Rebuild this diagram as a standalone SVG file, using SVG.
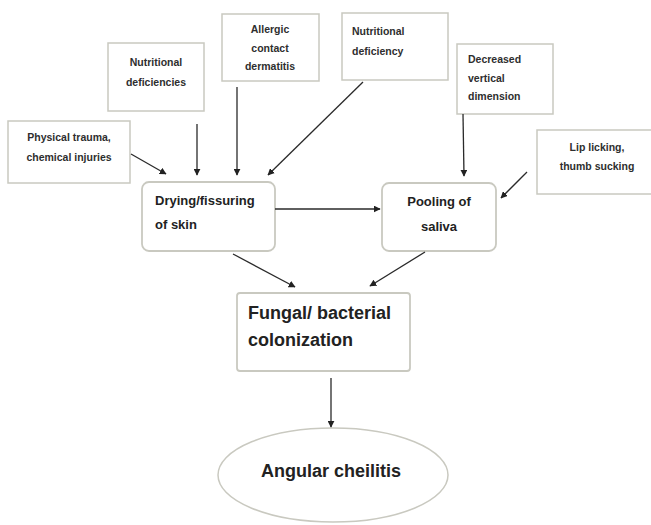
<svg xmlns="http://www.w3.org/2000/svg" width="651" height="525" viewBox="0 0 651 525">
<defs>
<marker id="ah" viewBox="0 0 10 10" refX="9" refY="5" markerWidth="7" markerHeight="7" markerUnits="userSpaceOnUse" orient="auto">
<path d="M0,0 L10,5 L0,10 z" fill="#222"/>
</marker>
<style>
.box{fill:#fff;stroke:#c9c9c0;stroke-width:1.5}
.rbox{fill:#fff;stroke:#c9c9c0;stroke-width:1.8}
.s{font-family:"Liberation Sans",Arial,sans-serif;font-weight:bold;font-size:10.5px;fill:#2e2e2e}
.m{font-family:"Liberation Sans",Arial,sans-serif;font-weight:bold;font-size:13px;fill:#222}
.l{font-family:"Liberation Sans",Arial,sans-serif;font-weight:bold;font-size:18px;fill:#222}
.c{stroke:#2a2a2a;stroke-width:1.3;fill:none;marker-end:url(#ah)}
</style>
</defs>
<rect width="651" height="525" fill="#fff"/>
<g id="physical">
<rect class="box" x="8" y="121" width="122" height="62"/>
<text class="s" x="69" y="141" text-anchor="middle">Physical trauma,</text>
<text class="s" x="69" y="161" text-anchor="middle">chemical injuries</text>
</g>
<g id="nutritional-deficiencies">
<rect class="box" x="108" y="43" width="96" height="68"/>
<text class="s" x="156" y="66" text-anchor="middle">Nutritional</text>
<text class="s" x="156" y="86" text-anchor="middle">deficiencies</text>
</g>
<g id="allergic">
<rect class="box" x="222" y="14" width="97" height="67"/>
<text class="s" x="270" y="33" text-anchor="middle">Allergic</text>
<text class="s" x="270" y="52" text-anchor="middle">contact</text>
<text class="s" x="270" y="70" text-anchor="middle">dermatitis</text>
</g>
<g id="nutritional-deficiency">
<rect class="box" x="342" y="13" width="106" height="67"/>
<text class="s" x="352" y="35">Nutritional</text>
<text class="s" x="352" y="55">deficiency</text>
</g>
<g id="decreased">
<rect class="box" x="457" y="44" width="96" height="70"/>
<text class="s" x="468" y="63">Decreased</text>
<text class="s" x="468" y="82">vertical</text>
<text class="s" x="468" y="100">dimension</text>
</g>
<g id="lip">
<rect class="box" x="537" y="130" width="120" height="64"/>
<text class="s" x="597" y="151" text-anchor="middle">Lip licking,</text>
<text class="s" x="597" y="170" text-anchor="middle">thumb sucking</text>
</g>
<g id="drying">
<rect class="rbox" x="142" y="182" width="133" height="69" rx="7"/>
<text class="m" x="155" y="205">Drying/fissuring</text>
<text class="m" x="155" y="229">of skin</text>
</g>
<g id="pooling">
<rect class="rbox" x="382" y="183" width="114" height="68" rx="7"/>
<text class="m" x="439" y="206" text-anchor="middle">Pooling of</text>
<text class="m" x="439" y="231" text-anchor="middle">saliva</text>
</g>
<g id="fungal">
<rect class="rbox" x="237" y="293" width="173" height="78" rx="3"/>
<text class="l" x="248" y="319">Fungal/ bacterial</text>
<text class="l" x="248" y="346">colonization</text>
</g>
<g id="angular">
<ellipse cx="333" cy="475" rx="115" ry="47" fill="#fff" stroke="#c9c9c0" stroke-width="1.5"/>
<text class="l" x="331" y="477" text-anchor="middle">Angular cheilitis</text>
</g>
<g id="connectors">
<line class="c" x1="131" y1="154" x2="166" y2="174"/>
<line class="c" x1="197" y1="124" x2="197" y2="175"/>
<line class="c" x1="237" y1="87" x2="237" y2="175"/>
<line class="c" x1="363" y1="82" x2="268" y2="175"/>
<line class="c" x1="463" y1="114" x2="464" y2="176"/>
<line class="c" x1="527" y1="172" x2="501" y2="198"/>
<line class="c" x1="275" y1="209" x2="380" y2="209"/>
<line class="c" x1="233" y1="254" x2="295" y2="287"/>
<line class="c" x1="425" y1="252" x2="370" y2="286"/>
<line class="c" x1="331" y1="378" x2="331" y2="427"/>
</g>
</svg>
